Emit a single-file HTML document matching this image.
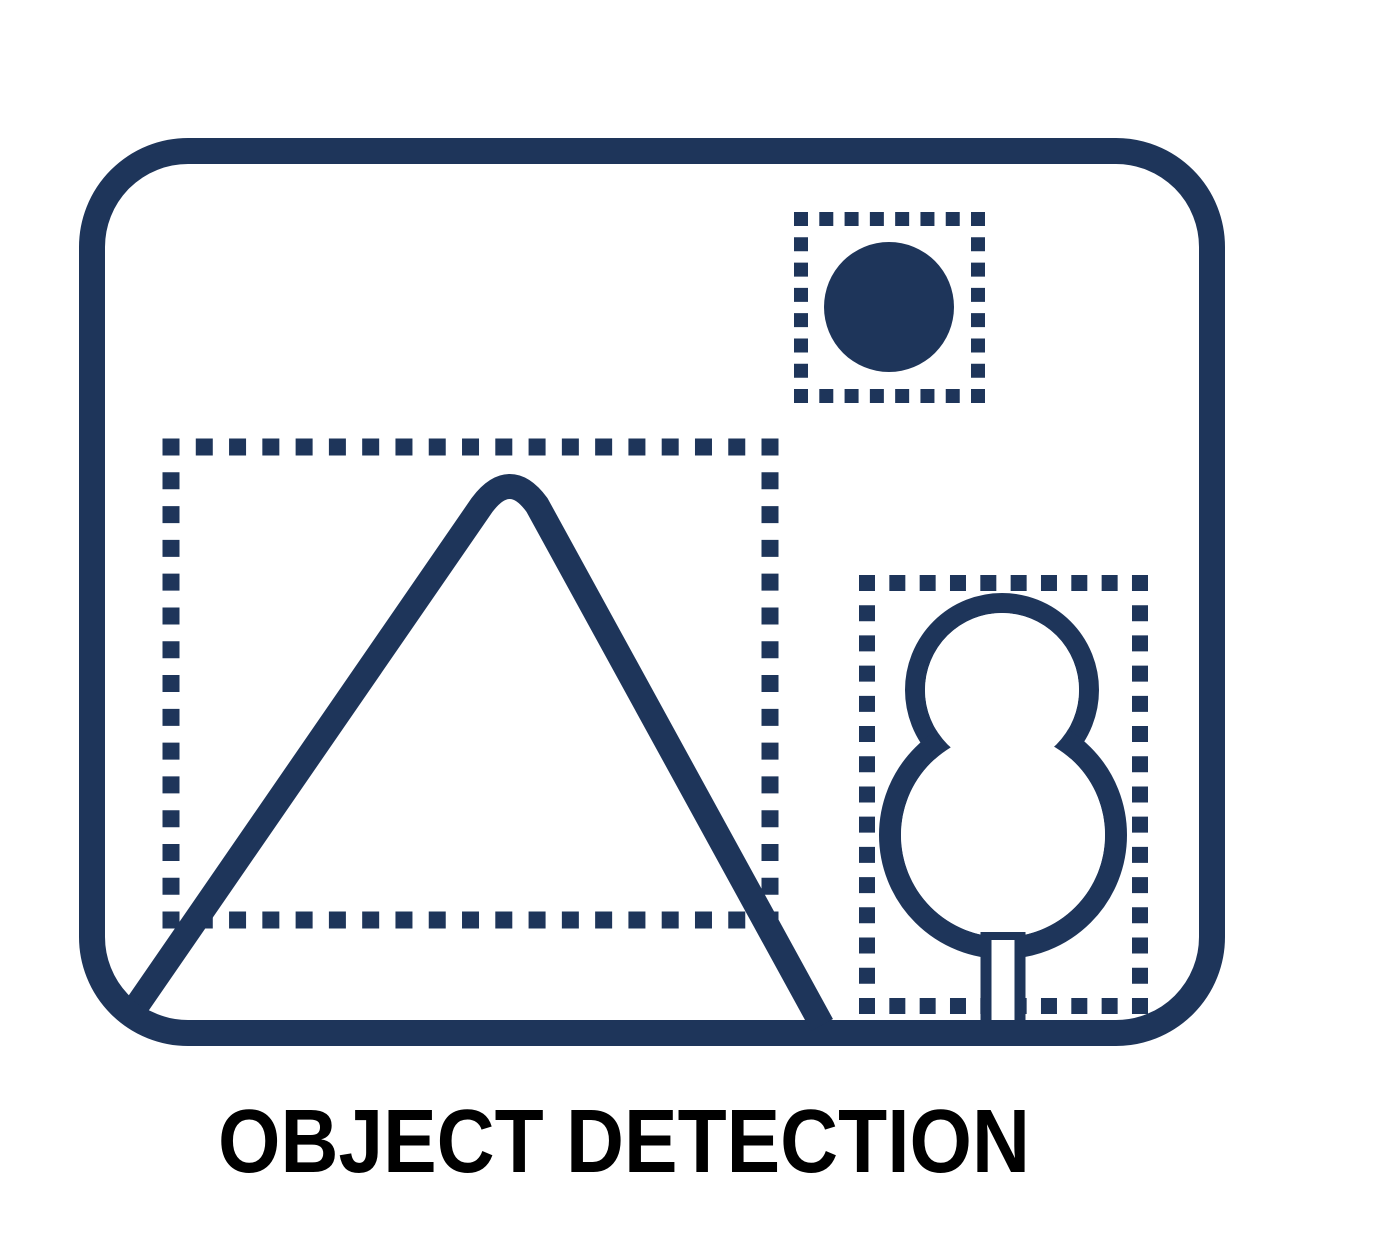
<!DOCTYPE html>
<html>
<head>
<meta charset="utf-8">
<style>
  html,body{margin:0;padding:0;background:#fff;}
  svg{display:block;}
</style>
</head>
<body>
<svg width="1384" height="1248" viewBox="0 0 1384 1248" xmlns="http://www.w3.org/2000/svg">
  <rect width="1384" height="1248" fill="#fff"/>
  <g fill="none" stroke="#1e355a">
    <rect x="92" y="151" width="1120" height="882" rx="96" ry="96" stroke-width="26"/>

    <g stroke-width="14" stroke-dasharray="14 11.29">
      <line x1="794" y1="219" x2="985" y2="219"/>
      <line x1="794" y1="396" x2="985" y2="396"/>
      <line x1="801" y1="212" x2="801" y2="403"/>
      <line x1="978" y1="212" x2="978" y2="403"/>
    </g>
    <circle cx="889" cy="307" r="65" fill="#1e355a" stroke="none"/>

    <g stroke-width="17">
      <line x1="162.5" y1="447" x2="778.5" y2="447" stroke-dasharray="17 16.28"/>
      <line x1="162.5" y1="920" x2="778.5" y2="920" stroke-dasharray="17 16.28"/>
      <line x1="171" y1="438.5" x2="171" y2="928.5" stroke-dasharray="17 16.79"/>
      <line x1="770" y1="438.5" x2="770" y2="928.5" stroke-dasharray="17 16.79"/>
    </g>
    <path d="M138,1004 L482,505 Q510,468 537,505 L822,1025" stroke-width="25" stroke-linejoin="round"/>

    <g stroke-width="16">
      <line x1="859" y1="583" x2="1148" y2="583" stroke-dasharray="16 14.33"/>
      <line x1="859" y1="1006" x2="1148" y2="1006" stroke-dasharray="16 14.33"/>
      <line x1="867" y1="575" x2="867" y2="1014" stroke-dasharray="16 14.21"/>
      <line x1="1140" y1="575" x2="1140" y2="1014" stroke-dasharray="16 14.21"/>
    </g>
    <g>
      <circle cx="1002" cy="690" r="87" stroke-width="20"/>
      <circle cx="1003" cy="835" r="113" stroke-width="22"/>
      <circle cx="1002" cy="690" r="77" fill="#fff" stroke="none"/>
      <circle cx="1003" cy="835" r="102" fill="#fff" stroke="none"/>
    </g>
    <g>
      <rect x="991" y="940" width="24" height="79" fill="#fff" stroke="none"/>
      <line x1="986" y1="932" x2="986" y2="1022" stroke-width="11"/>
      <line x1="1020" y1="932" x2="1020" y2="1022" stroke-width="11"/>
      <line x1="981" y1="936" x2="1025" y2="936" stroke-width="8"/>
    </g>
  </g>
  <text x="218" y="1172" textLength="812" lengthAdjust="spacingAndGlyphs" font-family="'Liberation Sans', sans-serif" font-weight="bold" font-size="90" fill="#000">OBJECT DETECTION</text>
</svg>
</body>
</html>
